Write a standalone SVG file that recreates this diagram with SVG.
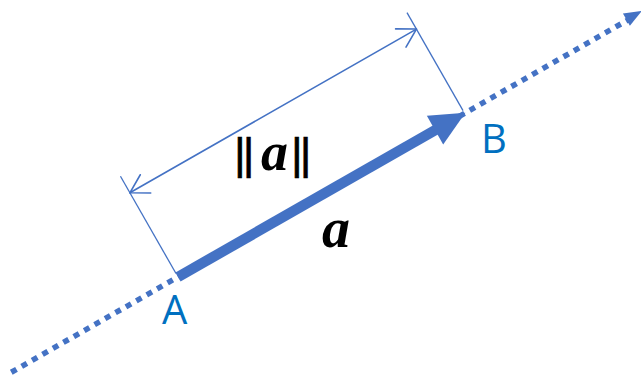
<svg xmlns="http://www.w3.org/2000/svg" width="641" height="381" viewBox="0 0 641 381">
<style>
.dot{fill:none;stroke:#4472C4;stroke-width:5.5;stroke-dasharray:6 6}
.thin{fill:none;stroke:#4472C4;stroke-width:1.3}
.dim{fill:none;stroke:#4472C4;stroke-width:1.6;stroke-linecap:round;stroke-linejoin:round}
.fillb{fill:#4472C4}
.lbl{font-family:"Open Sans","Noto Sans",sans-serif;font-size:40px;fill:#0070C0}
.math{font-family:"Liberation Serif",serif;font-weight:bold;font-style:italic;fill:#000}
.bars{font-family:"Liberation Sans",sans-serif;fill:#000;stroke:#000;stroke-width:0.6;font-size:45px;letter-spacing:-3px}
</style>
<rect width="641" height="381" fill="#fff"/>
<g id="connectors" transform="translate(178,277) rotate(-29.74)">
  <line class="dot" x1="-192" y1="0" x2="519" y2="0"/>
  <polygon class="fillb" points="517,-8 535,-1 517,6"/>
  <line class="thin" x1="0" y1="-116" x2="0" y2="-4"/>
  <line class="thin" x1="330" y1="-116" x2="330" y2="-3"/>
  <line class="dim" x1="0" y1="-97" x2="330" y2="-97"/>
  <polyline class="dim" points="18,-107.5 0,-97 18,-86.5"/>
  <polyline class="dim" points="312,-107.5 330,-97 312,-86.5"/>
</g>
<g id="vector-a" transform="translate(178,277) rotate(-29.74)">
  <rect class="fillb" x="0" y="-5.2" width="300" height="10.4"/>
  <polygon class="fillb" points="296,-16.5 331,0 296,16.5"/>
</g>
<g id="norm-label">
  <text class="bars" x="234" y="169">||</text>
  <text class="math" x="261" y="170" font-size="54">a</text>
  <text class="bars" x="291" y="169">||</text>
</g>
<g id="a-label"><text class="math" x="322" y="247" font-size="56">a</text></g>
<g id="A"><text class="lbl" x="162" y="324">A</text></g>
<g id="B"><text class="lbl" x="481" y="153">B</text></g>
</svg>
